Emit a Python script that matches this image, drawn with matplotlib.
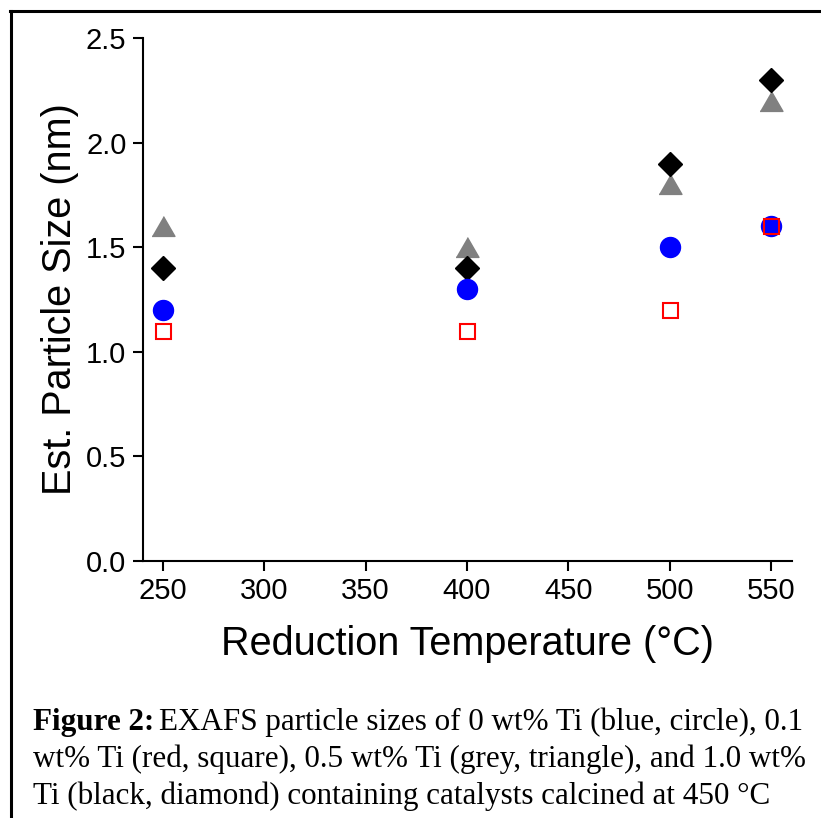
import matplotlib
matplotlib.use("Agg")
import matplotlib.pyplot as plt
from matplotlib.lines import Line2D

temps = [250, 400, 500, 550]
ti_0 = [1.2, 1.3, 1.5, 1.6]      # blue circle
ti_01 = [1.1, 1.1, 1.2, 1.6]     # red open square
ti_05 = [1.6, 1.5, 1.8, 2.2]     # grey triangle
ti_10 = [1.4, 1.4, 1.9, 2.3]     # black diamond
xticks = [250, 300, 350, 400, 450, 500, 550]
yticks = [0.0, 0.5, 1.0, 1.5, 2.0, 2.5]
caption_bold = 'Figure 2:'
caption_lines = ['EXAFS particle sizes of 0 wt% Ti (blue, circle), 0.1',
                 'wt% Ti (red, square), 0.5 wt% Ti (grey, triangle), and 1.0 wt%',
                 'Ti (black, diamond) containing catalysts calcined at 450 °C']

plt.rcParams['font.family'] = ['Liberation Sans', 'DejaVu Sans']

fig = plt.figure(figsize=(8.21, 8.18), dpi=100)
W, H = 821, 818
ax = fig.add_axes([142.7/W, 1-561/H, (792-142.7)/W, (561-38)/H])

tri = [(-1, -0.866), (1, -0.866), (0, 0.866)]
ax.plot(temps, ti_05, linestyle='none', marker=tri, ms=16.5, color='#808080', mec='#808080', zorder=3)
ax.plot(temps, ti_10, linestyle='none', marker='D', ms=12.5, color='black', zorder=4)
ax.plot(temps, ti_0, linestyle='none', marker='o', ms=14.4, color='#0000ff', zorder=5)
ax.plot(temps, ti_01, linestyle='none', marker='s', ms=10.8, mfc='none', mec='#ff0000', mew=1.5, zorder=6)

ax.set_xlim(240, 560.4)
ax.set_ylim(0, 2.5)
ax.set_xticks(xticks)
ax.set_yticks(yticks)
ax.set_yticklabels([f"{v:.1f}" for v in yticks])
for s in ['top', 'right']:
    ax.spines[s].set_visible(False)
for s in ['left', 'bottom']:
    ax.spines[s].set_linewidth(1.5)
ax.tick_params(direction='out', length=7.2, width=1.5, labelsize=21, pad=4.5)
ax.set_xlabel('Reduction Temperature (°C)', fontsize=28.5, labelpad=14)
ax.set_ylabel('Est. Particle Size (nm)', fontsize=28.5, labelpad=5)

# figure frame lines (top and left)
fig.add_artist(Line2D([10/W, 1], [1-11/H, 1-11/H], color='black', lw=2.2, transform=fig.transFigure))
fig.add_artist(Line2D([11/W, 11/W], [0, 1-11/H], color='black', lw=2.2, transform=fig.transFigure))

cap_font = ['Liberation Serif', 'DejaVu Serif']
r = fig.canvas.get_renderer()
# find caption size so that line 2 spans 33..808 px
probe = fig.text(0, 0, caption_lines[1], fontsize=20, family=cap_font)
wpx = probe.get_window_extent(renderer=r).width
probe.remove()
cfs = 20 * 775 / wpx

y1 = 1 - 730/H
t0 = fig.text(33/W, y1, caption_bold, fontsize=cfs, fontweight='bold', family=cap_font, va='baseline')
bb = t0.get_window_extent(renderer=r)
fig.text((bb.x1 + 5)/fig.bbox.width, y1, caption_lines[0], fontsize=cfs, family=cap_font, va='baseline')
fig.text(33/W, 1 - 767/H, caption_lines[1], fontsize=cfs, family=cap_font, va='baseline')
fig.text(33/W, 1 - 804/H, caption_lines[2], fontsize=cfs, family=cap_font, va='baseline')

fig.savefig('out.png', dpi=100)
